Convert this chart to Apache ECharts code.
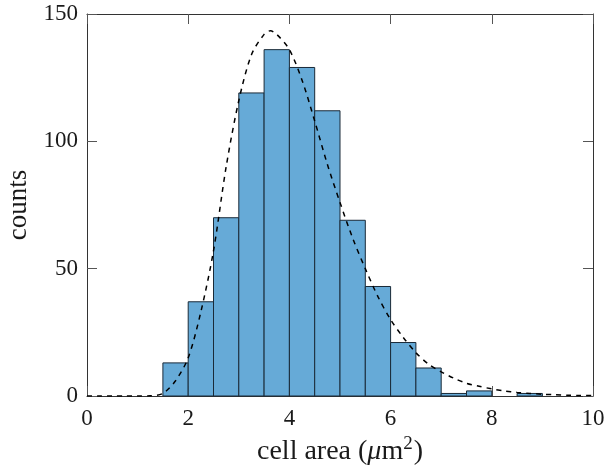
<!DOCTYPE html>
<html><head><meta charset="utf-8">
<script src="https://cdn.jsdelivr.net/npm/echarts@6/dist/echarts.min.js"></script>
<style>html,body{margin:0;padding:0;background:#fff}#c{width:609px;height:466px}</style>
</head><body><div id="c"></div>
<script>
const binEdges = [1.5,2,2.5,3,3.5,4,4.5,5,5.5,6,6.5,7,7.5,8,8.5,9];
const counts = [13,37,70,119,136,129,112,69,43,21,11,1,2,0,1];
const fitX = [0,0.25,0.5,0.75,1,1.25,1.5,1.75,2,2.25,2.5,2.75,3,3.25,3.5,3.625,3.75,4,4.25,4.5,4.75,5,5.25,5.5,5.75,6,6.25,6.5,6.75,7,7.25,7.5,7.75,8,8.25,8.5,8.75,9,9.25,9.5,9.75,10];
const fitY = [0,0,0,0,0,0.1,1,6,15,33,57,90,116,134,142,143.4,142,136,124,108,91,76,62,50,39,30,23,17,12.5,9.5,7,5,3.8,2.8,2,1.4,1,0.7,0.5,0.3,0.2,0.15];
const xTicks = [0,2,4,6,8,10];
const yTicks = [0,50,100,150];

const barData = counts.map((c,i)=>[binEdges[i], binEdges[i+1], c]).filter(d=>d[2]>0);
const lineData = fitX.map((x,i)=>[x, fitY[i]]);
const font = 'Liberation Serif';
const axisLine = {show:true, onZero:false, lineStyle:{color:'#333', width:1}};
const tick = {show:true, inside:true, length:10, lineStyle:{color:'#555'}};
const fs = 23;
const nfs = 28;
const col = '#1a1a1a';

const chart = echarts.init(document.getElementById('c'));
chart.setOption({
  animation:false,
  grid:{left:87, right:16, top:14, bottom:70, containLabel:false, outerBoundsMode:'none'},
  xAxis:[{
    type:'value', min:0, max:10, interval:2,
    axisLine, axisTick:tick, splitLine:{show:false},
    axisLabel:{color:col, fontFamily:font, fontSize:fs, margin:11, formatter:v=>xTicks.includes(v)?String(v):''},
    name:'cell area ({i|μ}m{s|2})', nameLocation:'middle', nameGap:33,
    nameTextStyle:{color:col, fontFamily:font, fontSize:nfs, rich:{i:{fontStyle:'italic', fontFamily:font, fontSize:nfs, color:col}, s:{fontSize:19, verticalAlign:'top', padding:[0,1,14,0], fontFamily:font, color:col}}}
  },{
    type:'value', position:'top', min:0, max:10, interval:2,
    axisLine, axisTick:tick, axisLabel:{show:false}, splitLine:{show:false}
  }],
  yAxis:[{
    type:'value', min:0, max:150, interval:50,
    axisLine, axisTick:tick, splitLine:{show:false},
    axisLabel:{color:col, fontFamily:font, fontSize:fs, margin:9, formatter:v=>yTicks.includes(v)?String(v):''},
    name:'counts', nameLocation:'middle', nameGap:49,
    nameTextStyle:{color:col, fontFamily:font, fontSize:27}
  },{
    type:'value', position:'right', min:0, max:150, interval:50,
    axisLine, axisTick:tick, axisLabel:{show:false}, splitLine:{show:false}
  }],
  series:[{
    type:'custom',
    data:barData,
    encode:{x:[0,1], y:2},
    renderItem:function(params, api){
      const p0 = api.coord([api.value(0), api.value(2)]);
      const p1 = api.coord([api.value(1), 0]);
      return {type:'rect', shape:{x:p0[0], y:p0[1], width:p1[0]-p0[0], height:p1[1]-p0[1]},
        style:{fill:'#66AAD7', stroke:'#1a2a38', lineWidth:1}};
    },
    z:2
  },{
    type:'line', data:lineData, showSymbol:false, smooth:0.3,
    lineStyle:{color:'#000', width:1.5, type:[5,5]}, z:3
  }]
});
</script></body></html>
